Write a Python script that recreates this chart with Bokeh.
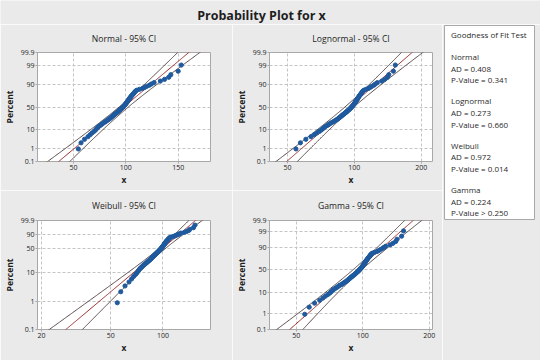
import numpy as np
from bokeh.plotting import figure
from bokeh.layouts import column, row
from bokeh.models import Range1d, FixedTicker, PrintfTickFormatter, Label, ColumnDataSource
from bokeh.core.properties import value
from bokeh.embed import file_html
from bokeh.resources import INLINE

# ---------------- data ----------------
X = [54.6, 57.2, 60.5, 63.8, 66.0, 67.8, 69.6, 71.0, 72.0, 73.0,
     74.0, 75.3, 76.5, 77.5, 78.5, 80.0, 81.0, 82.0, 83.0, 84.0,
     84.8, 85.5, 86.2, 87.0, 87.6, 88.3, 89.0, 89.7, 90.4, 91.1,
     91.8, 92.4, 93.0, 93.6, 94.2, 94.8, 95.4, 96.0, 96.5, 97.0,
     97.5, 98.0, 98.5, 99.0, 99.4, 99.8, 100.2, 100.6, 101.0, 101.4,
     101.8, 102.2, 102.6, 103.0, 103.4, 103.8, 104.2, 104.7, 105.2, 105.7,
     106.3, 106.9, 107.5, 108.1, 108.7, 109.4, 110.5,
     113.0, 116.0, 118.0, 120.0, 122.5, 124.5, 127.0, 133.0, 137.0,
     141.0, 143.0, 150.0, 153.0]

PCT_TICKS = [0.1, 1, 10, 50, 90, 99, 99.9]
PCT_TICKS_WEIBULL = [0.1, 1, 10, 50, 90, 99.9]
XTICKS_NORMAL = [50, 100, 150]
XTICKS_LOGN = [50, 100, 200]
XTICKS_WEIB = [20, 50, 100]
XTICKS_GAMMA = [50, 100, 200]

PANEL_TITLES = ["Normal - 95% CI", "Lognormal - 95% CI", "Weibull - 95% CI", "Gamma - 95% CI"]
DISTS = ["Normal", "Lognormal", "Weibull", "Gamma"]
AD = ["0.408", "0.273", "0.972", "0.224"]
PVAL = ["= 0.341", "= 0.660", "= 0.014", "> 0.250"]

# fitted parameters (estimated from the fitted lines in the picture)
NORM_MU, NORM_SIGMA = 98.0, 20.1
LOGN_LOC, LOGN_SCALE = 4.554, 0.2104
WEIB_SHAPE, WEIB_SCALE = 5.14, 105.8
GAMMA_SHAPE, GAMMA_SCALE = 24.0, 4.02
CONF_Z = 1.96

# ---------------- styling ----------------
BG = "#EAEAEA"
FRAME = "#A8A8A8"
GRID = "#C4C4C4"
PT = "#1F5A9E"
FIT = "#9B2A2A"
CI = "#4A3838"
TXT = "#1E1E1E"
FONT = "Open Sans"


# ---------------- axis transforms ----------------
def probit(p):
    p = np.atleast_1d(np.asarray(p, dtype=float))
    a = [-3.969683028665376e+01, 2.209460984245205e+02, -2.759285104469687e+02,
         1.383577518672690e+02, -3.066479806614716e+01, 2.506628277459239e+00]
    b = [-5.447609879822406e+01, 1.615858368580409e+02, -1.556989798598866e+02,
         6.680131188771972e+01, -1.328068155288572e+01]
    c = [-7.784894002430293e-03, -3.223964580411365e-01, -2.400758277161838e+00,
         -2.549732539343734e+00, 4.374664141464968e+00, 2.938163982698783e+00]
    d = [7.784695709041462e-03, 3.224671290700398e-01, 2.445134137142996e+00,
         3.754408661907416e+00]
    plow = 0.02425
    out = np.empty_like(p)
    lo = p < plow
    hi = p > 1 - plow
    mid = ~lo & ~hi
    q = np.sqrt(-2 * np.log(p[lo]))
    out[lo] = (((((c[0]*q+c[1])*q+c[2])*q+c[3])*q+c[4])*q+c[5]) / ((((d[0]*q+d[1])*q+d[2])*q+d[3])*q+1)
    q = np.sqrt(-2 * np.log(1 - p[hi]))
    out[hi] = -(((((c[0]*q+c[1])*q+c[2])*q+c[3])*q+c[4])*q+c[5]) / ((((d[0]*q+d[1])*q+d[2])*q+d[3])*q+1)
    q = p[mid] - 0.5
    r = q * q
    out[mid] = (((((a[0]*r+a[1])*r+a[2])*r+a[3])*r+a[4])*r+a[5])*q / (((((b[0]*r+b[1])*r+b[2])*r+b[3])*r+b[4])*r+1)
    return out


def weibit(p):
    p = np.atleast_1d(np.asarray(p, dtype=float))
    return np.log(-np.log(1 - p))


def gamma_y_from_z(z, k=GAMMA_SHAPE):
    # log of gamma(k) quantile (Wilson-Hilferty)
    return np.log(k) + 3 * np.log(1 - 1 / (9 * k) + z / (3 * np.sqrt(k)))


def gamma_y(p, k=GAMMA_SHAPE):
    return gamma_y_from_z(probit(p), k)


xs = np.sort(np.asarray(X, dtype=float))
n = len(xs)
P = (np.arange(1, n + 1) - 0.3) / (n + 0.4)   # median ranks


def style_panel(p, xticks, yticks, ylabels):
    p.xaxis.ticker = FixedTicker(ticks=list(xticks))
    p.xaxis.formatter = PrintfTickFormatter(format="%d")
    p.yaxis.ticker = FixedTicker(ticks=[float(t) for t in yticks])
    p.yaxis.major_label_overrides = {float(t): l for t, l in zip(yticks, ylabels)}
    for ax in (p.xaxis[0], p.yaxis[0]):
        ax.axis_line_color = None
        ax.major_tick_line_color = FRAME
        ax.major_tick_in = 0
        ax.major_tick_out = 2
        ax.minor_tick_line_color = None
        ax.major_label_text_font = FONT
        ax.major_label_text_font_size = "7px"
        ax.major_label_text_color = TXT
        ax.major_label_standoff = 1
        ax.axis_label_text_font = FONT
        ax.axis_label_text_font_size = "8.5px"
        ax.axis_label_text_font_style = "bold"
        ax.axis_label_text_color = TXT
    p.xaxis.axis_label = "x"
    p.yaxis.axis_label = "Percent"
    p.yaxis.axis_label_standoff = 3
    p.xaxis.axis_label_standoff = 1
    for g in (p.xgrid[0], p.ygrid[0]):
        g.grid_line_color = GRID
        g.grid_line_dash = "3 2"
        g.grid_line_width = 1


def make_panel(title, width, mbl, mbr, height, mbt, mbb, xr, xlog, yr, standoff):
    p = figure(width=width, height=height, title=title,
               x_range=Range1d(float(xr[0]), float(xr[1])),
               y_range=Range1d(float(yr[0]), float(yr[1])),
               x_axis_type="log" if xlog else "linear",
               output_backend="svg", toolbar_location=None,
               min_border_left=mbl, min_border_right=mbr,
               min_border_top=mbt, min_border_bottom=mbb,
               background_fill_color="white", border_fill_color=BG,
               outline_line_color=FRAME, outline_line_width=1)
    p.title.align = "center"
    p.title.vertical_align = "middle"
    p.title.standoff = standoff
    p.title.text_font = FONT
    p.title.text_font_size = "8.6px"
    p.title.text_font_style = "normal"
    p.title.text_color = TXT
    return p


def add_lines(p, xlo, xfit, xhi, y):
    p.line(xlo, y, line_color=CI, line_width=0.9)
    p.line(xhi, y, line_color=CI, line_width=0.9)
    p.line(xfit, y, line_color=FIT, line_width=1)


zg = np.linspace(-3.5, 3.5, 141)
pct_z = probit(np.array(PCT_TICKS) / 100)
pct_labels = [f"{t:g}" for t in PCT_TICKS]

# ---- Normal ----
pn = make_panel(PANEL_TITLES[0], 232, 37, 22, 166, 28, 29, (15.6, 180.9), False,
                (pct_z[0], pct_z[-1]), 14)
style_panel(pn, XTICKS_NORMAL, pct_z, pct_labels)
half = CONF_Z * NORM_SIGMA * np.sqrt((1 + zg ** 2 / 2) / n)
fit = NORM_MU + NORM_SIGMA * zg
add_lines(pn, fit - half, fit, fit + half, zg)
pn.scatter(xs, probit(P), size=4.2, fill_color=PT, line_color=PT)

# ---- Lognormal ----
pl = make_panel(PANEL_TITLES[1], 210, 28, 10, 166, 28, 29, (41.5, 225.0), True,
                (pct_z[0], pct_z[-1]), 14)
style_panel(pl, XTICKS_LOGN, pct_z, pct_labels)
half = CONF_Z * LOGN_SCALE * np.sqrt((1 + zg ** 2 / 2) / n)
fit = LOGN_LOC + LOGN_SCALE * zg
add_lines(pl, np.exp(fit - half), np.exp(fit), np.exp(fit + half), zg)
pl.scatter(xs, probit(P), size=4.2, fill_color=PT, line_color=PT)

# ---- Weibull ----
wt = weibit(np.array(PCT_TICKS_WEIBULL) / 100)
pw = make_panel(PANEL_TITLES[2], 232, 37, 22, 170, 30, 31, (18.95, 188.0), True,
                (wt[0], wt[-1]), 16)
style_panel(pw, XTICKS_WEIB, wt, [f"{t:g}" for t in PCT_TICKS_WEIBULL])
wg = np.linspace(-7.5, 2.3, 141)
bsc = 1 / WEIB_SHAPE
half = CONF_Z * bsc * np.sqrt((1.1087 + 0.5140 * wg + 0.6079 * wg ** 2) / n)
fit = np.log(WEIB_SCALE) + bsc * wg
add_lines(pw, np.exp(fit - half), np.exp(fit), np.exp(fit + half), wg)
pw.scatter(xs, weibit(P), size=4.2, fill_color=PT, line_color=PT)

# ---- Gamma ----
gt = gamma_y(np.array(PCT_TICKS) / 100)
pg = make_panel(PANEL_TITLES[3], 210, 28, 10, 170, 30, 31, (37.8, 207.0), True,
                (gt[0], gt[-1]), 16)
style_panel(pg, XTICKS_GAMMA, gt, pct_labels)
k = GAMMA_SHAPE
trig = 1 / k + 1 / (2 * k ** 2) + 1 / (6 * k ** 3) - 1 / (30 * k ** 5)
cc = 1 - 1 / (9 * k) + zg / (3 * np.sqrt(k))
gk = 1 / k + 3 * (1 / (9 * k ** 2) - zg / (6 * k ** 1.5)) / cc
var = (gk ** 2 * k - 2 * gk + trig) / (n * (k * trig - 1))
gy = gamma_y_from_z(zg)
fit = np.log(GAMMA_SCALE) + gy
half = CONF_Z * np.sqrt(var)
add_lines(pg, np.exp(fit - half), np.exp(fit), np.exp(fit + half), gy)
pg.scatter(xs, gamma_y(P), size=4.2, fill_color=PT, line_color=PT)

# ---- Goodness of fit box ----
lines, ly = ["Goodness of Fit Test"], [9.0]
for i, d in enumerate(DISTS):
    base = 31.0 + i * 44.4
    lines += [d, f"AD = {AD[i]}", f"P-Value {PVAL[i]}"]
    ly += [base, base + 11.6, base + 23.2]
gof = figure(width=98, height=336, x_range=Range1d(0, 90), y_range=Range1d(194, 0),
             output_backend="svg", toolbar_location=None,
             x_axis_location=None, y_axis_location=None,
             min_border_left=2, min_border_right=6, min_border_top=1, min_border_bottom=141,
             background_fill_color="white", border_fill_color=BG,
             outline_line_color=FRAME, outline_line_width=1)
gof.grid.visible = False
gof.text(x="x", y="y", text="t",
         source=ColumnDataSource(dict(x=[6.5] * len(lines), y=ly, t=lines)),
         text_font=value(FONT), text_font_size="8px", text_color="#2A2A2A",
         text_baseline="middle", text_align="left")

# ---- main title ----
tf = figure(width=540, height=24, x_range=Range1d(0, 1), y_range=Range1d(0, 1),
            output_backend="svg", toolbar_location=None,
            x_axis_location=None, y_axis_location=None, min_border=0,
            background_fill_color=BG, border_fill_color=BG, outline_line_color=None)
tf.grid.visible = False
tf.add_layout(Label(x=261, y=9, x_units="screen", y_units="screen",
                    text="Probability Plot for x", text_align="center", text_baseline="middle",
                    text_font=FONT, text_font_size="12.5px", text_font_style="bold",
                    text_color=TXT))

layout = column(tf, row(column(pn, pw), column(pl, pg), gof))
open("out.html", "w").write(file_html(layout, INLINE))
